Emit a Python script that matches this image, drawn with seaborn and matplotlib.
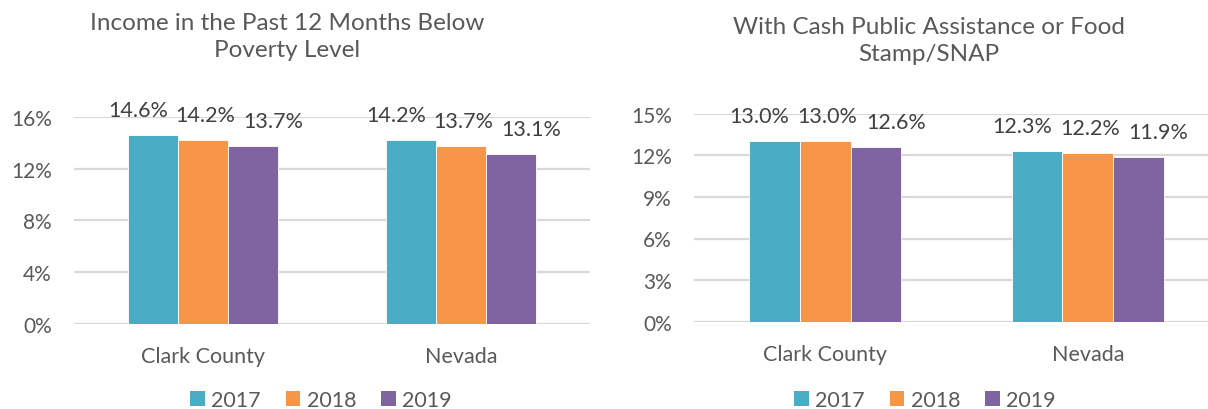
import matplotlib
matplotlib.use("Agg")
import matplotlib.pyplot as plt
from matplotlib.patches import Patch
import seaborn as sns
import pandas as pd

# Data (percent of population)
regions = ["Clark County", "Nevada"]
years = ["2017", "2018", "2019"]
poverty_clark = [14.6, 14.2, 13.7]
poverty_nevada = [14.2, 13.7, 13.1]
snap_clark = [13.0, 13.0, 12.6]
snap_nevada = [12.3, 12.2, 11.9]
poverty_ticks = [0, 4, 8, 12, 16]
snap_ticks = [0, 3, 6, 9, 12, 15]
title_poverty = "Income in the Past 12 Months Below\nPoverty Level"
title_snap = "With Cash Public Assistance or Food\nStamp/SNAP"

colors = ["#4BACC6", "#F79646", "#8064A2"]
text_color = "#595959"
grid_color = "#D9D9D9"

sns.set_theme(style="white")
plt.rcParams["font.family"] = ["Lato", "DejaVu Sans"]
plt.rcParams["text.color"] = text_color

W, H = 1208, 410


def make_frame(clark, nevada):
    rows = []
    for region, vals in zip(regions, [clark, nevada]):
        for year, v in zip(years, vals):
            rows.append({"region": region, "year": year, "value": v})
    return pd.DataFrame(rows)


# horizontal nudge (px) of value labels per year, to keep neighbours apart
label_nudge = [-15, 2, 20]


def draw(ax, df, ticks, legend_x):
    sns.barplot(data=df, x="region", y="value", hue="year", order=regions,
                hue_order=years, palette=colors, width=0.58, gap=0,
                edgecolor="white", linewidth=0.6, ax=ax, legend=False,
                errorbar=None, saturation=1)
    ax.set_xlim(-0.5, 1.5)
    ax.set_ylim(0, ticks[-1])
    ax.set_yticks(ticks)
    ax.set_yticklabels([f"{t}%" for t in ticks])
    ax.yaxis.grid(True, color=grid_color, linewidth=1.6)
    ax.set_axisbelow(True)
    for s in ax.spines.values():
        s.set_visible(False)
    ax.tick_params(axis="both", length=0, colors=text_color)
    ax.tick_params(axis="y", pad=16, labelsize=15)
    ax.tick_params(axis="x", pad=16, labelsize=15.5)
    ax.set_xlabel("")
    ax.set_ylabel("")
    for i, cont in enumerate(ax.containers):
        for bar in cont:
            h = bar.get_height()
            ax.annotate(f"{h:.1f}%",
                        (bar.get_x() + bar.get_width() / 2, h),
                        xytext=(label_nudge[i] * 0.72, 18), textcoords="offset points",
                        ha="center", va="center", fontsize=15.5,
                        color="#404040", annotation_clip=False)
    handles = [Patch(facecolor=c, edgecolor="none") for c in colors]
    fig.legend(handles, years, loc="center",
               bbox_to_anchor=(legend_x / W, 1 - 401 / H),
               bbox_transform=fig.transFigure,
               ncol=3, frameon=False, fontsize=15.5, handlelength=0.68,
               handleheight=0.68, handletextpad=0.3, columnspacing=1.15,
               labelcolor=text_color, borderpad=0, borderaxespad=0)


fig = plt.figure(figsize=(W / 100, H / 100), dpi=100)
ax1 = fig.add_axes([74 / W, 1 - 325 / H, 516 / W, 207.3 / H])
ax2 = fig.add_axes([694 / W, 1 - 322.7 / H, 525 / W, 208 / H])

draw(ax1, make_frame(poverty_clark, poverty_nevada), poverty_ticks, 321)
draw(ax2, make_frame(snap_clark, snap_nevada), snap_ticks, 925)

fig.text(287 / W, 1 - 37 / H, title_poverty, ha="center", va="center",
         fontsize=17.5, color=text_color, linespacing=1.3)
fig.text(929 / W, 1 - 41 / H, title_snap, ha="center", va="center",
         fontsize=17.5, color=text_color, linespacing=1.3)

fig.savefig("out.png", dpi=100)
